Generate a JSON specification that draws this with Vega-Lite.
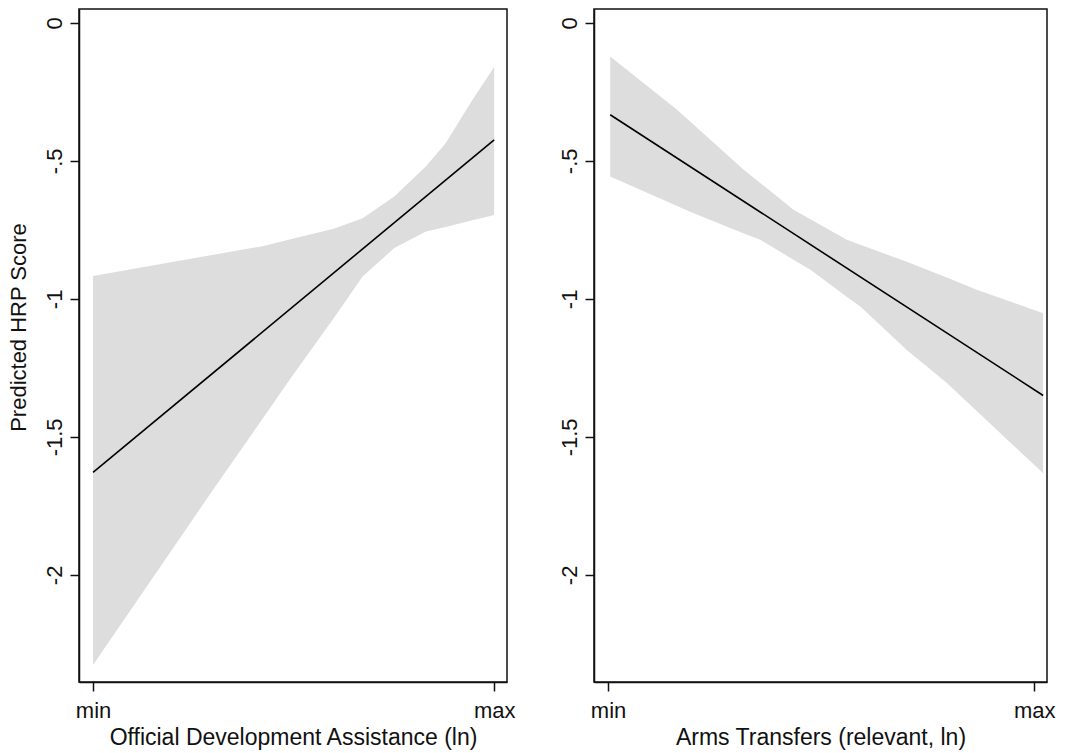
{
  "$schema": "https://vega.github.io/schema/vega-lite/v6.json",
  "background": "white",
  "padding": {"left": 6, "top": 8, "right": 5, "bottom": 5},
  "autosize": {"type": "pad"},
  "config": {
    "view": {"stroke": "#111111", "strokeWidth": 1.5},
    "font": "Liberation Sans",
    "axis": {
      "grid": false,
      "domainColor": "#111111",
      "domainWidth": 1.5,
      "tickColor": "#111111",
      "tickWidth": 1.5,
      "tickSize": 9,
      "labelFont": "Liberation Sans",
      "labelFontSize": 22,
      "labelColor": "#111111",
      "titleFont": "Liberation Sans",
      "titleFontSize": 22,
      "titleFontWeight": "normal",
      "titleColor": "#111111"
    }
  },
  "datasets": {
    "oda_band": [
      {"x": 0, "hi": -0.917, "lo": -2.326},
      {"x": 0.3, "hi": -0.840, "lo": -1.690},
      {"x": 0.42, "hi": -0.810, "lo": -1.440},
      {"x": 0.49, "hi": -0.785, "lo": -1.293},
      {"x": 0.6, "hi": -0.746, "lo": -1.070},
      {"x": 0.672, "hi": -0.708, "lo": -0.919},
      {"x": 0.751, "hi": -0.629, "lo": -0.816},
      {"x": 0.83, "hi": -0.520, "lo": -0.756},
      {"x": 0.879, "hi": -0.436, "lo": -0.740},
      {"x": 0.946, "hi": -0.279, "lo": -0.715},
      {"x": 1, "hi": -0.160, "lo": -0.696}
    ],
    "oda_fit": [
      {"x": 0, "y": -1.629},
      {"x": 1, "y": -0.424}
    ],
    "arms_band": [
      {"x": 0.005, "hi": -0.122, "lo": -0.557},
      {"x": 0.162, "hi": -0.315, "lo": -0.664},
      {"x": 0.201, "hi": -0.369, "lo": -0.690},
      {"x": 0.319, "hi": -0.533, "lo": -0.763},
      {"x": 0.357, "hi": -0.580, "lo": -0.786},
      {"x": 0.436, "hi": -0.678, "lo": -0.859},
      {"x": 0.475, "hi": -0.712, "lo": -0.895},
      {"x": 0.56, "hi": -0.786, "lo": -0.992},
      {"x": 0.592, "hi": -0.804, "lo": -1.028},
      {"x": 0.701, "hi": -0.866, "lo": -1.185},
      {"x": 0.795, "hi": -0.923, "lo": -1.305},
      {"x": 0.865, "hi": -0.967, "lo": -1.406},
      {"x": 1.021, "hi": -1.052, "lo": -1.632}
    ],
    "arms_fit": [
      {"x": 0.005, "y": -0.333},
      {"x": 1.021, "y": -1.350}
    ]
  },
  "bounds": "flush",
  "spacing": 87,
  "hconcat": [
    {
      "width": 428,
      "height": 673,
      "layer": [
        {
          "data": {"name": "oda_band"},
          "mark": {"type": "area", "color": "#dddddd", "opacity": 1},
          "encoding": {
            "x": {
              "field": "x", "type": "quantitative",
              "scale": {"domain": [-0.035, 1.032], "nice": false, "zero": false},
              "title": "Official Development Assistance (ln)",
              "axis": {"values": [0, 1], "labelExpr": "datum.value == 0 ? 'min' : 'max'", "labelPadding": 9, "titlePadding": 5, "titleFontSize": 23, "labelAngle": 0}
            },
            "y": {
              "field": "hi", "type": "quantitative",
              "scale": {"domain": [-2.388, 0.05], "nice": false, "zero": false},
              "title": "Predicted HRP Score",
              "axis": {"values": [0, -0.5, -1, -1.5, -2], "labelExpr": "datum.value == 0 ? '0' : '-' + replace(toString(-datum.value), '0.', '.')", "labelAngle": 270, "labelAlign": "center", "labelBaseline": "bottom", "labelPadding": 4, "titlePadding": 13, "titleY": 318}
            },
            "y2": {"field": "lo"}
          }
        },
        {
          "data": {"name": "oda_fit"},
          "mark": {"type": "line", "color": "#000000", "strokeWidth": 1.6},
          "encoding": {
            "x": {"field": "x", "type": "quantitative", "title": "Official Development Assistance (ln)"},
            "y": {"field": "y", "type": "quantitative", "title": "Predicted HRP Score"}
          }
        }
      ]
    },
    {
      "width": 453,
      "height": 673,
      "layer": [
        {
          "data": {"name": "arms_band"},
          "mark": {"type": "area", "color": "#dddddd", "opacity": 1},
          "encoding": {
            "x": {
              "field": "x", "type": "quantitative",
              "scale": {"domain": [-0.033, 1.03], "nice": false, "zero": false},
              "title": "Arms Transfers (relevant, ln)",
              "axis": {"values": [0, 1], "labelExpr": "datum.value == 0 ? 'min' : 'max'", "labelPadding": 9, "titlePadding": 5, "titleFontSize": 23, "labelAngle": 0}
            },
            "y": {
              "field": "hi", "type": "quantitative",
              "scale": {"domain": [-2.388, 0.05], "nice": false, "zero": false},
              "title": null,
              "axis": {"title": null, "values": [0, -0.5, -1, -1.5, -2], "labelExpr": "datum.value == 0 ? '0' : '-' + replace(toString(-datum.value), '0.', '.')", "labelAngle": 270, "labelAlign": "center", "labelBaseline": "bottom", "labelPadding": 4}
            },
            "y2": {"field": "lo"}
          }
        },
        {
          "data": {"name": "arms_fit"},
          "mark": {"type": "line", "color": "#000000", "strokeWidth": 1.6},
          "encoding": {
            "x": {"field": "x", "type": "quantitative", "title": "Arms Transfers (relevant, ln)"},
            "y": {"field": "y", "type": "quantitative", "title": null}
          }
        }
      ]
    }
  ]
}
